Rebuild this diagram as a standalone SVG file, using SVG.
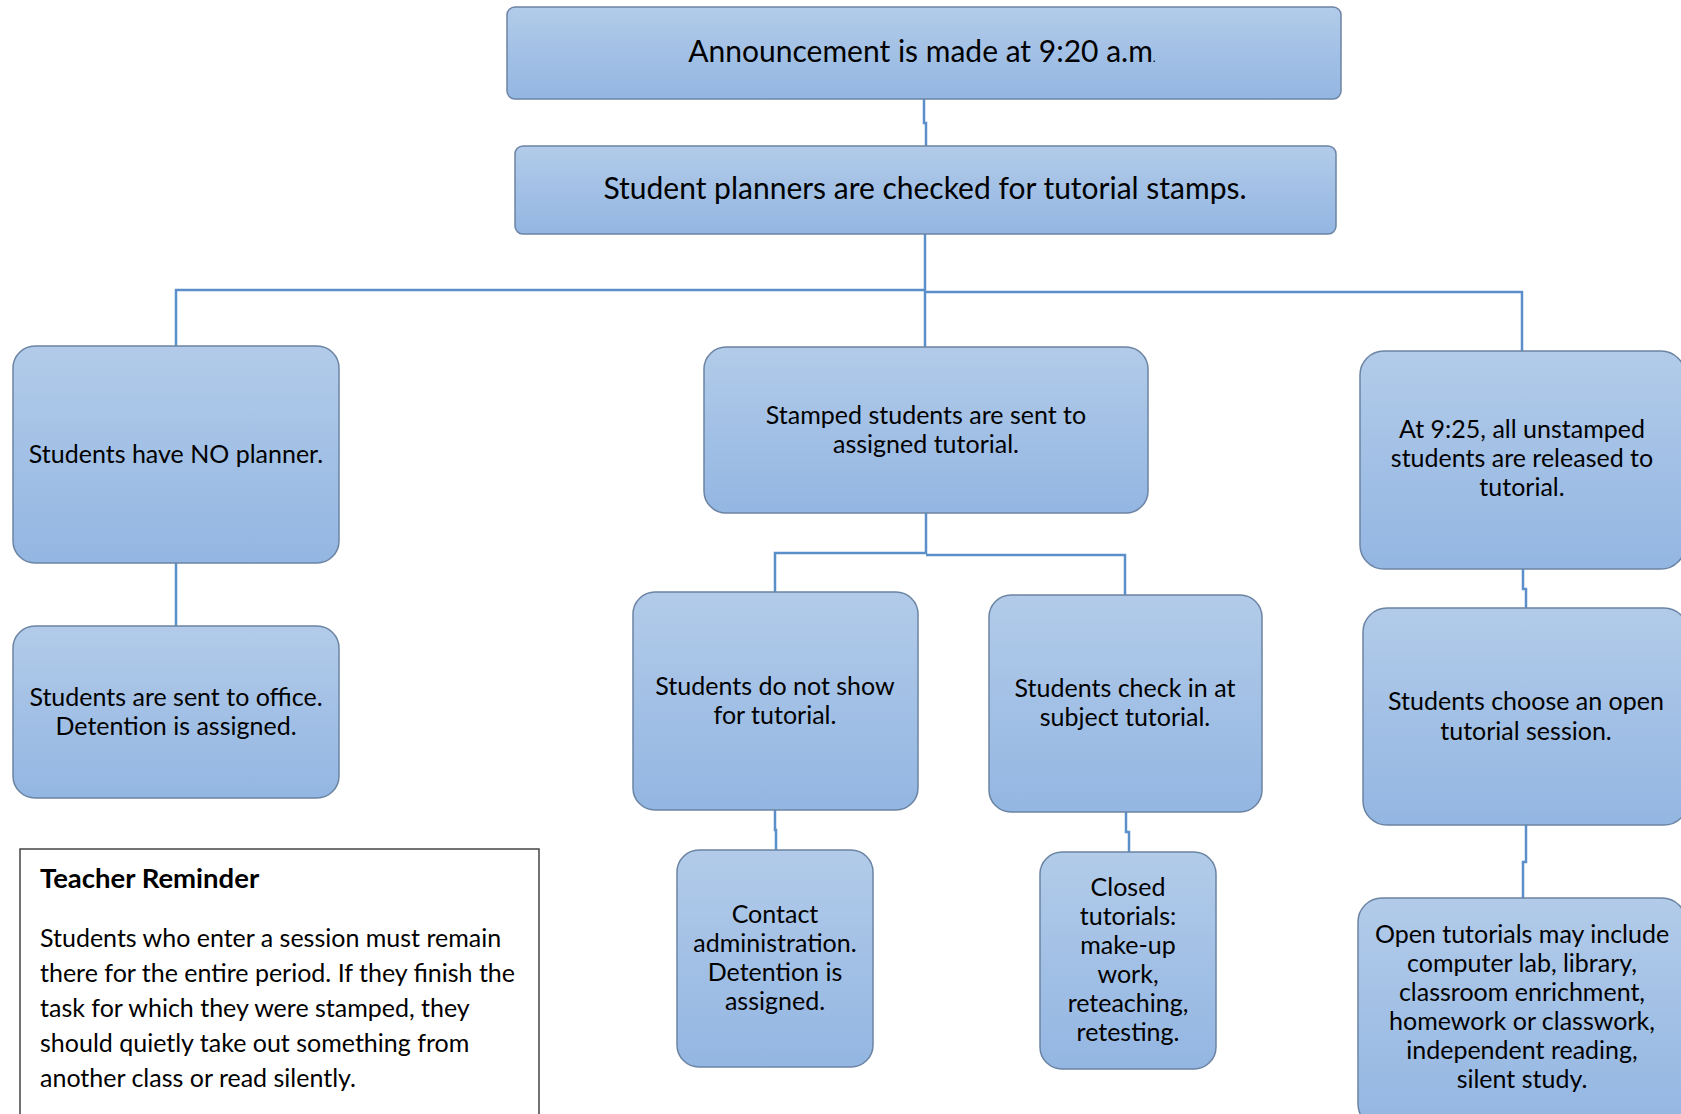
<svg xmlns="http://www.w3.org/2000/svg" width="1681" height="1114" viewBox="0 0 1681 1114">
<defs>
<linearGradient id="g" x1="0" y1="0" x2="0" y2="1">
<stop offset="0" stop-color="#B2CBE9"/>
<stop offset="1" stop-color="#93B6E2"/>
</linearGradient>
<style>
.box{fill:url(#g);stroke:#6C84A3;stroke-width:1.5}
.t{font-family:Lato,"Liberation Sans",sans-serif;font-size:25px;fill:#000;text-anchor:middle}
.big{font-size:30px}
.c{fill:none;stroke:#5A8FC9;stroke-width:2.5}
.note{fill:#fff;stroke:#444;stroke-width:1.5}
.n{font-family:Lato,"Liberation Sans",sans-serif;font-size:25px;fill:#000}
.h{font-size:27.5px;font-weight:bold}
</style>
</defs>
<rect width="1681" height="1114" fill="#fff"/>
<g id="connectors">
<path class="c" d="M924 99 V123 H926 V146"/>
<path class="c" d="M925 234 V347"/>
<path class="c" d="M925 290 H176 V346"/>
<path class="c" d="M926 292 H1522 V351"/>
<path class="c" d="M176 563 V626"/>
<path class="c" d="M926 513 V553 H775 V592"/>
<path class="c" d="M926 555 H1125 V595"/>
<path class="c" d="M775 810 V830 H776 V850"/>
<path class="c" d="M1126 812 V832 H1129 V852"/>
<path class="c" d="M1523 569 V589 H1526 V608"/>
<path class="c" d="M1526 825 V862 H1523 V898"/>
</g>
<g id="n1"><rect class="box" x="507" y="7" width="834" height="92" rx="8"/>
<text class="t big" x="922" y="62">Announcement is made at 9:20 a.m<tspan font-size="12">.</tspan></text></g>
<g id="n2"><rect class="box" x="515" y="146" width="821" height="88" rx="8"/>
<text class="t big" x="925" y="199">Student planners are checked for tutorial stamps.</text></g>
<g id="n3"><rect class="box" x="13" y="346" width="326" height="217" rx="22"/>
<text class="t" x="176" y="463">Students have NO planner.</text></g>
<g id="n4"><rect class="box" x="13" y="626" width="326" height="172" rx="22"/>
<text class="t" x="176" y="706">Students are sent to office.</text>
<text class="t" x="176" y="735">Detention is assigned.</text></g>
<g id="n5"><rect class="box" x="704" y="347" width="444" height="166" rx="22"/>
<text class="t" x="926" y="424">Stamped students are sent to</text>
<text class="t" x="926" y="453">assigned tutorial.</text></g>
<g id="n6"><rect class="box" x="633" y="592" width="285" height="218" rx="22"/>
<text class="t" x="775" y="695">Students do not show</text>
<text class="t" x="775" y="724">for tutorial.</text></g>
<g id="n7"><rect class="box" x="989" y="595" width="273" height="217" rx="22"/>
<text class="t" x="1125" y="697">Students check in at</text>
<text class="t" x="1125" y="726">subject tutorial.</text></g>
<g id="n8"><rect class="box" x="677" y="850" width="196" height="217" rx="22"/>
<text class="t" x="775" y="923">Contact</text>
<text class="t" x="775" y="952">administration.</text>
<text class="t" x="775" y="981">Detention is</text>
<text class="t" x="775" y="1010">assigned.</text></g>
<g id="n9"><rect class="box" x="1040" y="852" width="176" height="217" rx="22"/>
<text class="t" x="1128" y="896">Closed</text>
<text class="t" x="1128" y="925">tutorials:</text>
<text class="t" x="1128" y="954">make-up</text>
<text class="t" x="1128" y="983">work,</text>
<text class="t" x="1128" y="1012">reteaching,</text>
<text class="t" x="1128" y="1041">retesting.</text></g>
<g id="n10"><rect class="box" x="1360" y="351" width="325" height="218" rx="24"/>
<text class="t" x="1522" y="438">At 9:25, all unstamped</text>
<text class="t" x="1522" y="467">students are released to</text>
<text class="t" x="1522" y="496">tutorial.</text></g>
<g id="n11"><rect class="box" x="1363" y="608" width="325" height="217" rx="24"/>
<text class="t" x="1526" y="710">Students choose an open</text>
<text class="t" x="1526" y="740">tutorial session.</text></g>
<g id="n12"><rect class="box" x="1358" y="898" width="328" height="230" rx="24"/>
<text class="t" x="1522" y="943">Open tutorials may include</text>
<text class="t" x="1522" y="972">computer lab, library,</text>
<text class="t" x="1522" y="1001">classroom enrichment,</text>
<text class="t" x="1522" y="1030">homework or classwork,</text>
<text class="t" x="1522" y="1059">independent reading,</text>
<text class="t" x="1522" y="1088">silent study.</text></g>
<g id="reminder"><rect class="note" x="20" y="849" width="519" height="290"/>
<text class="n h" x="40" y="888">Teacher Reminder</text>
<text class="n" x="40" y="947">Students who enter a session must remain</text>
<text class="n" x="40" y="982">there for the entire period. If they finish the</text>
<text class="n" x="40" y="1017">task for which they were stamped, they</text>
<text class="n" x="40" y="1052">should quietly take out something from</text>
<text class="n" x="40" y="1087">another class or read silently.</text></g>
</svg>
